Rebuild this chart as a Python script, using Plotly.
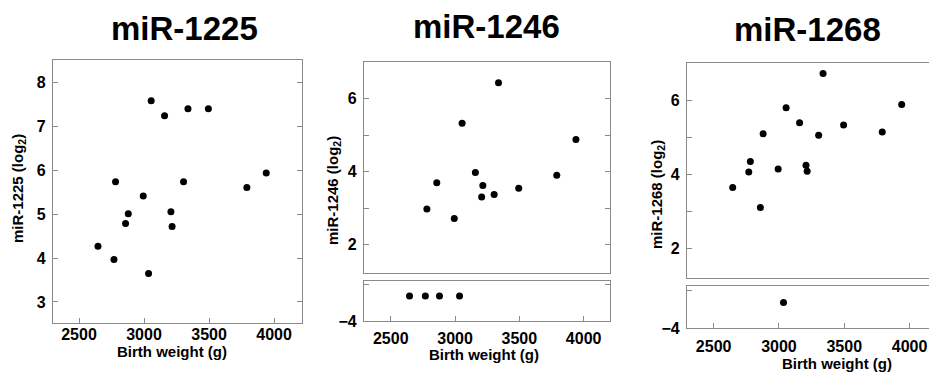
import plotly.graph_objects as go

W, H = 929, 378

# ---- data ----
birth_weight = [2646, 2769, 2781, 2858, 2879, 2994, 3035, 3055, 3158, 3207, 3216, 3304, 3338, 3495, 3791, 3940]
mir1225 = [4.27, 3.97, 5.74, 4.79, 5.01, 5.42, 3.65, 7.59, 7.25, 5.06, 4.72, 5.74, 7.41, 7.41, 5.61, 5.94]
mir1246 = [-3.32, -3.32, 2.97, 3.69, -3.32, 2.71, -3.32, 5.32, 3.97, 3.30, 3.62, 3.37, 6.43, 3.54, 3.90, 4.88]
mir1268 = [3.64, 4.06, 4.34, 3.10, 5.09, 4.14, -3.32, 5.79, 5.39, 4.24, 4.08, 5.05, 6.72, 5.33, 5.14, 5.88]
titles = ["miR-1225", "miR-1246", "miR-1268"]
x_ticks = [2500, 3000, 3500, 4000]
y1_ticks = [3, 4, 5, 6, 7, 8]
y_upper_ticks = [2, 4, 6]
y_upper_minor = [3, 5]
y_lower_ticks = [-4]
y_lower_minor = [-3]

FONT = "Liberation Sans, Arial, Helvetica, sans-serif"
LINE = "#8a8a8a"


def px_x(p):
    return p / W


def px_y(p):
    return 1 - p / H


def split(xs, ys):
    up = [(a, b) for a, b in zip(xs, ys) if b >= 0]
    lo = [(a, b) for a, b in zip(xs, ys) if b < 0]
    return ([a for a, _ in up], [b for _, b in up]), ([a for a, _ in lo], [b for _, b in lo])


fig = go.Figure()
mk = dict(color="black", size=7)

# panel 1
fig.add_trace(go.Scatter(x=birth_weight, y=mir1225, mode="markers", marker=mk, xaxis="x", yaxis="y"))
# panel 2
(u2x, u2y), (l2x, l2y) = split(birth_weight, mir1246)
fig.add_trace(go.Scatter(x=u2x, y=u2y, mode="markers", marker=mk, xaxis="x2", yaxis="y2"))
fig.add_trace(go.Scatter(x=l2x, y=l2y, mode="markers", marker=mk, xaxis="x3", yaxis="y3"))
# panel 3
(u3x, u3y), (l3x, l3y) = split(birth_weight, mir1268)
fig.add_trace(go.Scatter(x=u3x, y=u3y, mode="markers", marker=mk, xaxis="x4", yaxis="y4"))
fig.add_trace(go.Scatter(x=l3x, y=l3y, mode="markers", marker=mk, xaxis="x5", yaxis="y5"))

tickfont = dict(family=FONT, size=16, color="black", weight="bold")

base_ax = dict(showline=True, linecolor=LINE, linewidth=1.3, showgrid=False, zeroline=False,
               ticks="inside", ticklen=5, tickcolor=LINE, tickwidth=1.3, tickfont=tickfont,
               automargin=False)


def xax(domain, rng, anchor, labels=True, mirror=True, standoff=0):
    d = dict(base_ax)
    d.update(domain=domain, range=rng, anchor=anchor, mirror=mirror, tickvals=x_ticks)
    if labels:
        d.update(ticklabelstandoff=standoff)
    else:
        d.update(ticks="", showticklabels=False)
    return d


def yax(domain, rng, anchor, vals, minor_vals=None, mirror="ticks"):
    d = dict(base_ax)
    d.update(domain=domain, range=rng, anchor=anchor, mirror=mirror, tickvals=vals,
             ticklabelstandoff=3)
    if minor_vals:
        d.update(minor=dict(tickvals=minor_vals, ticks="inside", ticklen=5, tickcolor=LINE,
                            tickwidth=1.3, showgrid=False))
    return d


p1x = [px_x(53), px_x(302)]
p2x = [px_x(364), px_x(610)]
p3x = [px_x(687), 1.0]

layout = dict(
    width=W, height=H, margin=dict(l=0, r=0, t=0, b=0),
    paper_bgcolor="white", plot_bgcolor="white", showlegend=False,
    xaxis=xax(p1x, [2300, 4215], "y", standoff=-3),
    yaxis=yax([px_y(323), px_y(60)], [2.52, 8.52], "x", y1_ticks),
    xaxis2=xax(p2x, [2292, 4205], "y2", labels=False),
    yaxis2=yax([px_y(273), px_y(62)], [1.22, 7.0], "x2", y_upper_ticks, y_upper_minor),
    xaxis3=xax(p2x, [2292, 4205], "y3", standoff=3),
    yaxis3=yax([px_y(321), px_y(281)], [-4, -2.91], "x3", y_lower_ticks, y_lower_minor),
    xaxis4=xax(p3x, [2296, 4149], "y4", labels=False),
    yaxis4=yax([px_y(278), px_y(63)], [1.2, 7.0], "x4", y_upper_ticks, y_upper_minor, mirror=False),
    xaxis5=xax(p3x, [2296, 4149], "y5", standoff=4),
    yaxis5=yax([px_y(328), px_y(286)], [-4, -2.88], "x5", y_lower_ticks, y_lower_minor, mirror=False),
)
fig.update_layout(**layout)

ann = []
title_font = dict(family=FONT, size=33, color="black", weight="bold")
for t, (cx, cy) in zip(titles, [(184, 28), (486, 27), (807, 30)]):
    ann.append(dict(text=t, x=px_x(cx), y=px_y(cy), xref="paper", yref="paper", showarrow=False,
                    xanchor="center", yanchor="middle", font=title_font))

axis_font = dict(family=FONT, size=15, color="black", weight="bold")
for cx, cy in [(172, 351), (484, 354), (837, 363)]:
    ann.append(dict(text="Birth weight (g)", x=px_x(cx), y=px_y(cy), xref="paper", yref="paper",
                    showarrow=False, xanchor="center", yanchor="middle", font=axis_font))
for t, (cx, cy) in zip(titles, [(18, 189), (333, 191), (657, 195)]):
    ann.append(dict(text=t + " (log<sub>2</sub>)", x=px_x(cx), y=px_y(cy), xref="paper", yref="paper",
                    showarrow=False, xanchor="center", yanchor="middle", textangle=-90, font=axis_font))
fig.update_layout(annotations=ann)

fig.write_html("out.html", config={"displayModeBar": False},
               post_script="document.body.style.margin='0';document.body.style.padding='0';"
                           "document.body.style.overflow='hidden';")
